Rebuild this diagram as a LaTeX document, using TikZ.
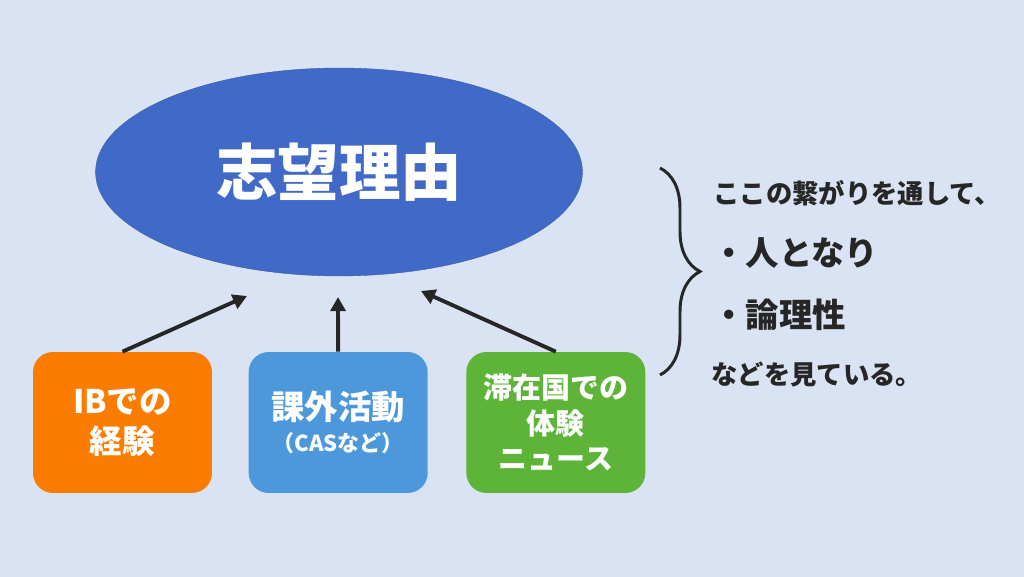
\documentclass[tikz,border=0pt]{standalone}
\usepackage{fontspec}
\setmainfont{Noto Sans CJK JP}
\usetikzlibrary{arrows.meta,positioning,shapes.geometric,decorations.pathreplacing}
\definecolor{bgblue}{RGB}{218,227,243}
\definecolor{ovalblue}{RGB}{65,106,200}
\definecolor{boxorange}{RGB}{252,124,0}
\definecolor{boxblue}{RGB}{77,152,218}
\definecolor{boxgreen}{RGB}{93,180,56}
\definecolor{ink}{RGB}{38,38,38}

\begin{document}
\begin{tikzpicture}[x=0.02cm, y=0.02cm, node distance=0.72cm, every node/.style={align=center, text=white}, oval/.style={ellipse, fill=ovalblue, draw=ovalblue!80!black, very thin, minimum width=9.74cm, minimum height=4.16cm, inner sep=0pt}, box/.style={rounded corners=0.4cm, minimum width=3.58cm, minimum height=2.82cm, inner sep=0pt}, arrow/.style={-{Triangle[length=8pt,width=8.5pt]}, line width=2.2pt, draw=ink}, note/.style={anchor=west, text=ink, align=left, inner sep=0pt}]
\fill[bgblue] (0,0) rectangle (1024,577);
\node[oval, font=\bfseries\fontsize{35}{40}\selectfont] (reason) at (339,405) {志望理由};
\node[box, fill=boxorange, font=\bfseries\fontsize{18.5}{23}\selectfont] (ib) at (122.5,154.5) {IBでの\\経験};
\node[box, fill=boxblue, right=of ib, font=\bfseries\fontsize{19}{18}\selectfont] (cas) {課外活動\\{\fontsize{12.5}{13}\selectfont （CASなど）}};
\node[box, fill=boxgreen, right=0.76cm of cas, font=\bfseries\fontsize{16.5}{20}\selectfont] (abroad) {滞在国での\\体験\\ニュース};
\coordinate (tipa) at (247,281);
\coordinate (tipb) at (338,280);
\coordinate (tipc) at (421,286);
\draw[arrow] (ib.north) -- (tipa);
\draw[arrow] (cas.north) -- (tipb);
\draw[arrow] (abroad.north) -- (tipc);
% brace and note on the right
\coordinate (bracetop) at (660,409);
\coordinate (bracebot) at (660,202);
\draw[ink, line width=1.7pt, decorate, decoration={brace, amplitude=0.8cm}] (bracetop) -- (bracebot);
\node[note, font=\bfseries\fontsize{15}{17}\selectfont] (via) at (713,384) {ここの繋がりを通して、};
\node[note, font=\bfseries\fontsize{19}{21}\selectfont] (person) at (712,324) {・人となり};
\node[note, font=\bfseries\fontsize{19}{21}\selectfont] (logic) at (712,262) {・論理性};
\node[note, font=\bfseries\fontsize{15}{17}\selectfont] (seeing) at (711,202) {などを見ている。};
\end{tikzpicture}
\end{document}
